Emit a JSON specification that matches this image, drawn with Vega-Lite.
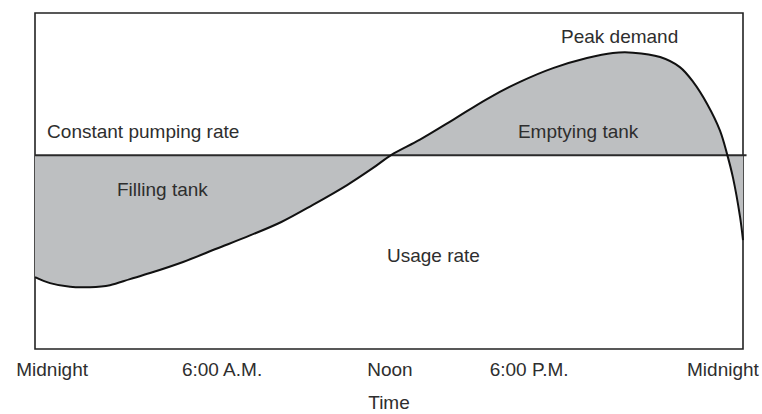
{
  "$schema": "https://vega.github.io/schema/vega-lite/v6.json",
  "width": 708,
  "height": 336,
  "autosize": {"type": "none"},
  "padding": {"left": 35, "top": 13, "right": 19, "bottom": 65},
  "background": "white",
  "config": {
    "view": {"stroke": "#222", "strokeWidth": 1.6},
    "text": {"font": "Liberation Sans", "fontSize": 19, "color": "#2e2e2e"}
  },
  "datasets": {
    "usage": [
      {"hour": 0, "rate": 21.4, "pump": 57.7},
      {"hour": 0.51, "rate": 19.6, "pump": 57.7},
      {"hour": 1.19, "rate": 18.5, "pump": 57.7},
      {"hour": 1.86, "rate": 18.4, "pump": 57.7},
      {"hour": 2.54, "rate": 19.0, "pump": 57.7},
      {"hour": 3.22, "rate": 20.8, "pump": 57.7},
      {"hour": 3.9, "rate": 22.6, "pump": 57.7},
      {"hour": 5.02, "rate": 25.9, "pump": 57.7},
      {"hour": 6.17, "rate": 29.9, "pump": 57.7},
      {"hour": 7.29, "rate": 33.8, "pump": 57.7},
      {"hour": 8.35, "rate": 37.8, "pump": 57.7},
      {"hour": 9.42, "rate": 42.9, "pump": 57.7},
      {"hour": 10.58, "rate": 48.8, "pump": 57.7},
      {"hour": 11.46, "rate": 53.9, "pump": 57.7},
      {"hour": 12.07, "rate": 57.7, "pump": 57.7},
      {"hour": 13.05, "rate": 62.3, "pump": 57.7},
      {"hour": 14.17, "rate": 68.2, "pump": 57.7},
      {"hour": 15.32, "rate": 74.4, "pump": 57.7},
      {"hour": 16.44, "rate": 79.5, "pump": 57.7},
      {"hour": 17.56, "rate": 83.6, "pump": 57.7},
      {"hour": 18.71, "rate": 86.6, "pump": 57.7},
      {"hour": 19.59, "rate": 88.1, "pump": 57.7},
      {"hour": 20.27, "rate": 88.2, "pump": 57.7},
      {"hour": 21.19, "rate": 86.9, "pump": 57.7},
      {"hour": 21.86, "rate": 83.9, "pump": 57.7},
      {"hour": 22.31, "rate": 79.5, "pump": 57.7},
      {"hour": 22.78, "rate": 73.0, "pump": 57.7},
      {"hour": 23.22, "rate": 65.0, "pump": 57.7},
      {"hour": 23.46, "rate": 58.0, "pump": 57.7},
      {"hour": 23.66, "rate": 51.0, "pump": 57.7},
      {"hour": 23.9, "rate": 39.3, "pump": 57.7},
      {"hour": 24.0, "rate": 32.4, "pump": 57.7}
    ],
    "pumping": [
      {"start": 0, "end": 24.12, "rate": 57.7}
    ],
    "notes": [
      {"hour": 0.41, "rate": 62.8, "label": "Constant pumping rate"},
      {"hour": 2.78, "rate": 45.5, "label": "Filling tank"},
      {"hour": 11.93, "rate": 25.9, "label": "Usage rate"},
      {"hour": 16.37, "rate": 62.8, "label": "Emptying tank"},
      {"hour": 17.83, "rate": 91.1, "label": "Peak demand"}
    ],
    "ticks": [
      {"hour": 0.58, "rate": -8.0, "label": "Midnight"},
      {"hour": 6.34, "rate": -8.0, "label": "6:00 A.M."},
      {"hour": 12.03, "rate": -8.0, "label": "Noon"},
      {"hour": 16.75, "rate": -8.0, "label": "6:00 P.M."},
      {"hour": 23.32, "rate": -8.0, "label": "Midnight"},
      {"hour": 12.0, "rate": -17.9, "label": "Time"}
    ]
  },
  "encoding": {
    "x": {"field": "hour", "type": "quantitative", "scale": {"domain": [0, 24], "nice": false, "zero": false}, "axis": null},
    "y": {"field": "rate", "type": "quantitative", "scale": {"domain": [0, 100], "nice": false, "zero": false}, "axis": null}
  },
  "layer": [
    {
      "data": {"name": "usage"},
      "mark": {"type": "area", "interpolate": "catmull-rom", "color": "#bdbfc1", "opacity": 1},
      "encoding": {"y2": {"field": "pump"}}
    },
    {
      "data": {"name": "pumping"},
      "mark": {"type": "rule", "stroke": "#2a2a2a", "strokeWidth": 2},
      "encoding": {
        "x": {"field": "start", "type": "quantitative"},
        "x2": {"field": "end"},
        "y": {"field": "rate", "type": "quantitative"}
      }
    },
    {
      "data": {"name": "usage"},
      "mark": {"type": "line", "interpolate": "catmull-rom", "stroke": "#111", "strokeWidth": 2}
    },
    {
      "data": {"name": "notes"},
      "mark": {"type": "text", "align": "left", "baseline": "alphabetic"},
      "encoding": {"text": {"field": "label"}}
    },
    {
      "data": {"name": "ticks"},
      "mark": {"type": "text", "align": "center", "baseline": "alphabetic"},
      "encoding": {"text": {"field": "label"}}
    }
  ]
}
